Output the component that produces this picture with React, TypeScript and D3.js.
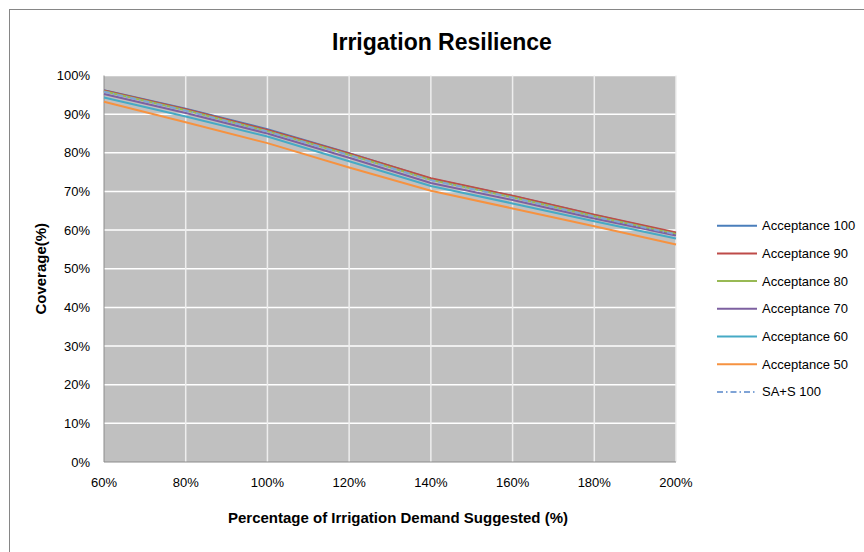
import React from "react";
import * as d3 from "d3";

// x values: irrigation demand suggested (%)
const demandLevels = [60, 80, 100, 120, 140, 160, 180, 200];

// coverage (%) per series
const acceptance100 = [96.2, 91.4, 86.1, 79.9, 73.3, 68.8, 63.9, 59.2];
const acceptance90 = [96.1, 91.3, 85.9, 79.8, 73.4, 68.9, 64.0, 59.4];
const acceptance80 = [95.9, 91.0, 85.6, 79.5, 73.0, 68.5, 63.6, 59.0];
const acceptance70 = [95.2, 90.3, 85.0, 78.7, 72.2, 67.8, 63.0, 58.6];
const acceptance60 = [94.3, 89.4, 84.2, 77.8, 71.4, 66.9, 62.3, 57.8];
const acceptance50 = [93.2, 87.9, 82.5, 76.2, 70.2, 65.6, 61.0, 56.3];
const saS100 = [95.8, 90.9, 85.5, 79.4, 72.9, 68.4, 63.5, 58.9];

const yTicks = [0, 10, 20, 30, 40, 50, 60, 70, 80, 90, 100];

const series = [
  { name: "Acceptance 100", values: acceptance100, color: "#4a7ebb", dash: "" },
  { name: "Acceptance 90", values: acceptance90, color: "#be4b48", dash: "" },
  { name: "Acceptance 80", values: acceptance80, color: "#98b954", dash: "" },
  { name: "Acceptance 70", values: acceptance70, color: "#7d60a0", dash: "" },
  { name: "Acceptance 60", values: acceptance60, color: "#46aac5", dash: "" },
  { name: "Acceptance 50", values: acceptance50, color: "#f69240", dash: "" },
  { name: "SA+S 100", values: saS100, color: "#7fa3d6", dash: "6,3,1.5,3" },
];

const width = 864;
const height = 552;
const plot = { left: 104, right: 676, top: 75.5, bottom: 462 };
const font = "'Liberation Sans', Arial, sans-serif";

export default function App() {
  const x = d3.scaleLinear().domain([60, 200]).range([plot.left, plot.right]);
  const y = d3.scaleLinear().domain([0, 100]).range([plot.bottom, plot.top]);

  const line = d3
    .line<number>()
    .x((_, i) => x(demandLevels[i]))
    .y((d) => y(d));

  return (
    <svg
      width={width}
      height={height}
      style={{ position: "absolute", left: 0, top: 0, background: "#fff" }}
      fontFamily={font}
    >
      {/* chart area border (cut off at right/bottom) */}
      <rect x={9.5} y={9.5} width={900} height={600} fill="#fff" stroke="#868686" strokeWidth={1} />

      <text x={442} y={42} textAnchor="middle" dominantBaseline="central" fontSize={23} fontWeight="bold" fill="#000">
        Irrigation Resilience
      </text>

      {/* plot area */}
      <rect
        x={plot.left}
        y={plot.top}
        width={plot.right - plot.left}
        height={plot.bottom - plot.top}
        fill="#c0c0c0"
      />
      {yTicks.slice(1).map((t) => (
        <line key={"gy" + t} x1={plot.left} x2={plot.right} y1={y(t)} y2={y(t)} stroke="#fff" strokeWidth={1.5} />
      ))}
      {demandLevels.slice(1).map((t) => (
        <line key={"gx" + t} x1={x(t)} x2={x(t)} y1={plot.top} y2={plot.bottom} stroke="#eee" strokeWidth={1.5} />
      ))}
      <line x1={plot.left} x2={plot.left} y1={plot.top} y2={plot.bottom} stroke="#8c8c8c" strokeWidth={1} />
      <line x1={plot.left} x2={plot.right} y1={plot.bottom} y2={plot.bottom} stroke="#8c8c8c" strokeWidth={1} />

      {/* series */}
      {series.map((s) => (
        <path
          key={s.name}
          d={line(s.values) || ""}
          fill="none"
          stroke={s.color}
          strokeWidth={2}
          strokeDasharray={s.dash || undefined}
        />
      ))}

      {/* y axis labels */}
      {yTicks.map((t) => (
        <text key={"ty" + t} x={90} y={y(t)} textAnchor="end" dominantBaseline="central" fontSize={13} fill="#000">
          {t}%
        </text>
      ))}
      {/* x axis labels */}
      {demandLevels.map((t) => (
        <text key={"tx" + t} x={x(t)} y={482} textAnchor="middle" dominantBaseline="central" fontSize={13} fill="#000">
          {t}%
        </text>
      ))}

      <text
        transform={`translate(40,${(plot.top + plot.bottom) / 2}) rotate(-90)`}
        textAnchor="middle"
        dominantBaseline="central"
        fontSize={15}
        fontWeight="bold"
      >
        Coverage(%)
      </text>
      <text x={398} y={517} textAnchor="middle" dominantBaseline="central" fontSize={15} fontWeight="bold">
        Percentage of Irrigation Demand Suggested (%)
      </text>

      {/* legend */}
      {series.map((s, i) => {
        const ly = 225.7 + i * 27.7;
        return (
          <g key={"lg" + s.name}>
            <line x1={717} x2={757} y1={ly} y2={ly} stroke={s.color} strokeWidth={2} strokeDasharray={s.dash || undefined} />
            <text x={762} y={ly} dominantBaseline="central" fontSize={13} fill="#000">
              {s.name}
            </text>
          </g>
        );
      })}
    </svg>
  );
}
